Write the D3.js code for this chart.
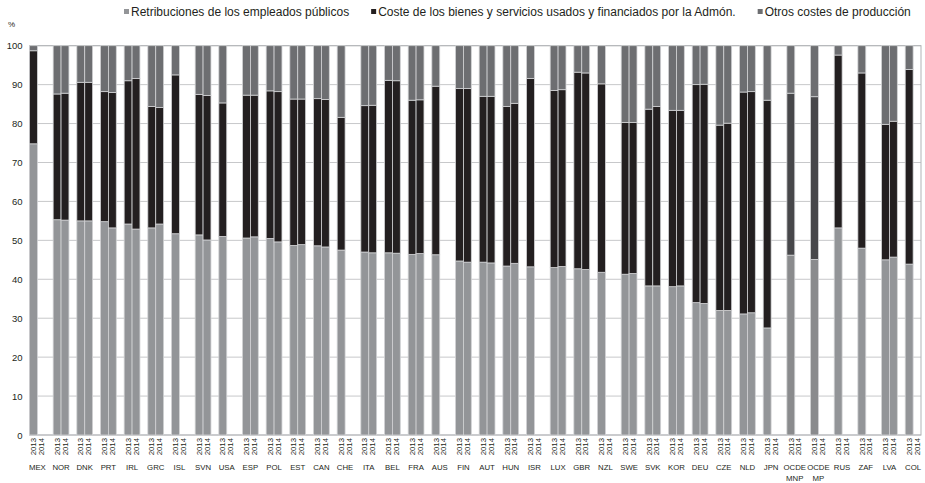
<!DOCTYPE html>
<html>
<head>
<meta charset="utf-8">
<script src="https://cdn.jsdelivr.net/npm/d3@7"></script>
<style>
  body { margin: 0; background: #fff; }
  svg text { font-family: "Liberation Sans", Arial, sans-serif; fill: #231f20; }
</style>
</head>
<body>
<svg id="chart" width="925" height="483"></svg>
<script>
// Country groups (each has a 2013 and a 2014 bar)
const countries = ["MEX","NOR","DNK","PRT","IRL","GRC","ISL","SVN","USA","ESP","POL","EST","CAN","CHE",
  "ITA","BEL","FRA","AUS","FIN","AUT","HUN","ISR","LUX","GBR","NZL","SWE","SVK","KOR","DEU","CZE",
  "NLD","JPN","OCDE MNP","OCDE MP","RUS","ZAF","LVA","COL"];
const years = ["2013","2014"];

// Retribuciones de los empleados públicos (% del total)
const retrib2013 = [74.8,55.3,55.0,54.8,54.2,53.2,51.7,51.4,51.0,50.6,50.5,48.7,48.6,47.5,
  47.0,46.8,46.4,46.3,44.7,44.4,43.4,43.2,43.0,42.7,41.8,41.3,38.3,38.1,34.0,32.0,
  31.1,27.5,46.2,45.1,53.2,48.0,45.0,43.9];
const retrib2014 = [null,55.2,55.0,53.2,52.9,54.2,null,50.1,null,50.9,49.6,48.9,48.3,null,
  46.8,46.7,46.6,null,44.4,44.2,44.1,null,43.3,42.5,null,41.5,38.3,38.3,33.8,32.0,
  31.4,null,null,null,null,null,45.7,null];

// Coste de los bienes y servicios usados y financiados por la Admón.
const coste2013 = [23.9,32.3,35.6,33.4,36.8,31.2,40.8,36.1,34.3,36.7,37.9,37.6,37.8,34.1,
  37.6,44.3,39.6,43.3,44.3,42.6,41.0,48.4,45.5,50.5,48.4,39.0,45.4,45.3,56.0,47.6,
  57.0,58.5,41.6,41.8,44.4,45.0,34.8,50.0];
const coste2014 = [null,32.6,35.6,34.8,38.7,29.9,null,37.1,null,36.4,38.6,37.4,37.9,null,
  37.9,44.3,39.5,null,44.6,42.8,41.1,null,45.4,50.5,null,38.8,46.1,45.1,56.3,48.1,
  56.8,null,null,null,null,null,34.9,null];

// Otros costes de producción
const otros2013 = [1.3,12.4,9.4,11.8,9.0,15.6,7.5,12.5,14.7,12.7,11.6,13.7,13.6,18.4,
  15.4,8.9,14.0,10.4,11.0,13.0,15.6,8.4,11.5,6.8,9.8,19.7,16.3,16.6,10.0,20.4,
  11.9,14.0,12.2,13.1,2.4,7.0,20.2,6.1];
const otros2014 = [null,12.2,9.4,12.0,8.4,15.9,null,12.8,null,12.7,11.8,13.7,13.8,null,
  15.3,9.0,13.9,null,11.0,13.0,14.8,null,11.3,7.0,null,19.7,15.6,16.6,9.9,19.9,
  11.8,null,null,null,null,null,19.4,null];

const seriesNames = ["Retribuciones de los empleados públicos",
  "Coste de los bienes y servicios usados y financiados por la Admón.",
  "Otros costes de producción"];
const yTicks = [0,10,20,30,40,50,60,70,80,90,100];

const colors = ["#939598", "#231f20", "#6d6e71"];
// OECD aggregates are drawn in a separate shade
const aggColors = ["#8a8b8d", "#47474a", "#6d6e71"];
const aggregates = ["OCDE MNP", "OCDE MP"];

const svg = d3.select("#chart");
const plotL = 29.5, plotR = 921, plotT = 45.7, plotB = 435;

// Slots: 2013, 2014, then a spacer between countries
const slots = [];
countries.forEach((c, i) => {
  years.forEach(yr => slots.push(c + "|" + yr));
  if (i < countries.length - 1) slots.push(c + "|gap");
});
const x = d3.scaleBand().domain(slots).range([plotL, plotR]).padding(0);
const y = d3.scaleLinear().domain([0, 100]).range([plotB, plotT]);

// Grid lines
svg.append("g").selectAll("line").data(yTicks).join("line")
  .attr("x1", plotL).attr("x2", plotR)
  .attr("y1", d => y(d)).attr("y2", d => y(d))
  .attr("stroke", "#c7c8ca").attr("stroke-width", 1);

// Plot frame
svg.append("rect").attr("x", plotL).attr("y", plotT)
  .attr("width", plotR - plotL).attr("height", plotB - plotT)
  .attr("fill", "none").attr("stroke", "#b1b3b6").attr("stroke-width", 1);

// Stacked records
const rows = [];
countries.forEach((c, i) => {
  [[retrib2013, coste2013, otros2013], [retrib2014, coste2014, otros2014]].forEach((arrs, k) => {
    if (arrs[0][i] == null) return;
    let acc = 0;
    arrs.forEach((a, s) => {
      rows.push({ country: c, year: years[k], s, y0: acc, y1: acc + a[i] });
      acc += a[i];
    });
  });
});

svg.append("g").selectAll("rect").data(rows).join("rect")
  .attr("x", d => x(d.country + "|" + d.year))
  .attr("width", x.bandwidth())
  .attr("y", d => y(d.y1))
  .attr("height", d => y(d.y0) - y(d.y1))
  .attr("fill", d => (aggregates.includes(d.country) ? aggColors : colors)[d.s])
  .attr("stroke", "#d1d2d4").attr("stroke-width", 0.8);

// Y axis
const yAxis = svg.append("g").attr("transform", `translate(${plotL},0)`)
  .call(d3.axisLeft(y).tickValues(yTicks).tickSize(0).tickPadding(7));
yAxis.select(".domain").remove();
yAxis.selectAll("text").attr("font-size", 9.5).style("font-family", "inherit");

svg.append("text").attr("x", 8).attr("y", 27).attr("font-size", 8).text("%");

// Year labels
const yearG = svg.append("g");
countries.forEach(c => years.forEach(yr => {
  const cx = x(c + "|" + yr) + x.bandwidth() / 2;
  yearG.append("text")
    .attr("transform", `translate(${cx + 2.7},${plotB + 3}) rotate(-90)`)
    .attr("text-anchor", "end").attr("font-size", 7.8).text(yr);
}));

// Country labels
const cG = svg.append("g");
countries.forEach(c => {
  const cx = x(c + "|2014");
  const parts = c.split(" ");
  parts.forEach((p, j) => {
    cG.append("text").attr("x", cx).attr("y", 470 + j * 11)
      .attr("text-anchor", "middle").attr("font-size", 7.8).text(p);
  });
});

// Legend
const leg = svg.append("g");
let lx = 124;
seriesNames.forEach((n, i) => {
  leg.append("rect").attr("x", lx).attr("y", 9).attr("width", 5).attr("height", 5)
    .attr("fill", colors[i]);
  const t = leg.append("text").attr("x", lx + 7).attr("y", 15.5)
    .attr("font-size", 12).text(n);
  lx += 7 + t.node().getComputedTextLength() + 22;
});
</script>
</body>
</html>
